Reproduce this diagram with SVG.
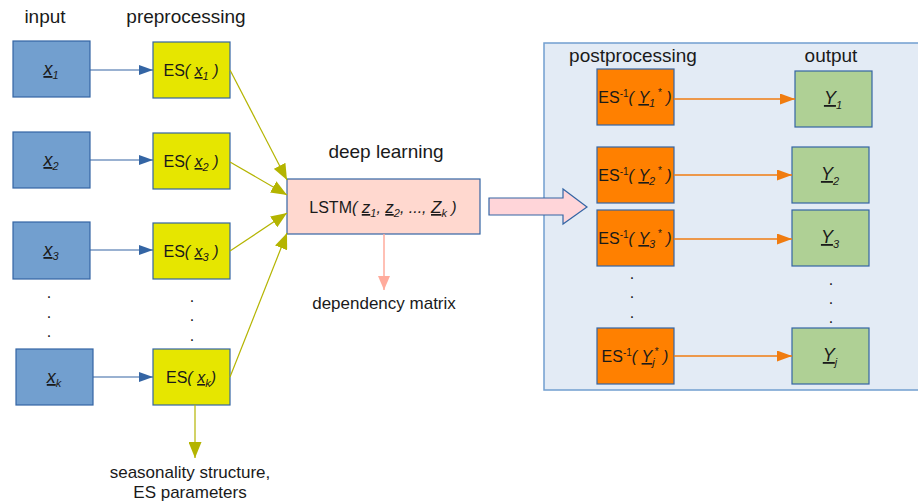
<svg xmlns="http://www.w3.org/2000/svg" width="918" height="501" viewBox="0 0 918 501">
  <defs>
    <marker id="ah-blue" markerUnits="userSpaceOnUse" markerWidth="14" markerHeight="10" refX="14" refY="5" orient="auto">
      <path d="M0,0 L14,5 L0,10 z" fill="#3465a4"/>
    </marker>
    <marker id="ah-olive" markerUnits="userSpaceOnUse" markerWidth="16" markerHeight="13" refX="16" refY="6.5" orient="auto">
      <path d="M0,0 L16,6.5 L0,13 z" fill="#b4b400"/>
    </marker>
    <marker id="ah-salmon" markerUnits="userSpaceOnUse" markerWidth="14" markerHeight="12" refX="14" refY="6" orient="auto">
      <path d="M0,0 L14,6 L0,12 z" fill="#ffab9c"/>
    </marker>
    <marker id="ah-orange" markerUnits="userSpaceOnUse" markerWidth="15" markerHeight="11" refX="15" refY="5.5" orient="auto">
      <path d="M0,0 L15,5.5 L0,11 z" fill="#f07c10"/>
    </marker>
  </defs>
  <style>
    text { font-family: "Liberation Sans", Arial, sans-serif; fill: #1a1a1a; }
    .head { font-size: 19px; }
    .note { font-size: 17px; }
    .lbl { font-size: 16px; }
    .var { font-style: italic; text-decoration: underline; }
    .sub { font-style: italic; font-size: 11px; }
    .sup { font-size: 10px; }
    .dot { font-size: 16px; }
    .in { fill: #729fcf; stroke: #3465a4; stroke-width: 1.2; }
    .es { fill: #e6e600; stroke: #3465a4; stroke-width: 1.2; }
    .lstm { fill: #ffd8cf; stroke: #3465a4; stroke-width: 1.2; }
    .post { fill: #ff8000; stroke: #3465a4; stroke-width: 1.2; }
    .out { fill: #afd095; stroke: #3465a4; stroke-width: 1.2; }
    .c-blue { stroke: #3465a4; stroke-width: 1.2; fill: none; marker-end: url(#ah-blue); }
    .c-olive { stroke: #b4b400; stroke-width: 1.2; fill: none; marker-end: url(#ah-olive); }
    .c-salmon { stroke: #ffab9c; stroke-width: 1.5; fill: none; marker-end: url(#ah-salmon); }
    .c-orange { stroke: #f07c10; stroke-width: 1.3; fill: none; marker-end: url(#ah-orange); }
  </style>

  <!-- postprocessing panel -->
  <rect id="panel" x="544" y="43" width="380" height="347" fill="#e3ebf5" stroke="#729fcf" stroke-width="1.5"/>

  <!-- column headings -->
  <text class="head" x="45" y="23" text-anchor="middle">input</text>
  <text class="head" x="186" y="23" text-anchor="middle">preprocessing</text>
  <text class="head" x="386" y="158" text-anchor="middle">deep learning</text>
  <text class="head" x="633" y="62" text-anchor="middle">postprocessing</text>
  <text class="head" x="831" y="62" text-anchor="middle">output</text>

  <!-- input series -->
  <g id="in1"><rect class="in" x="13" y="41" width="77" height="56"/>
    <text class="lbl" x="51" y="75" text-anchor="middle"><tspan class="var" font-size="18">x</tspan><tspan class="sub" dy="4">1</tspan></text></g>
  <g id="in2"><rect class="in" x="13" y="132" width="77" height="56"/>
    <text class="lbl" x="51" y="166" text-anchor="middle"><tspan class="var" font-size="18">x</tspan><tspan class="sub" dy="4">2</tspan></text></g>
  <g id="in3"><rect class="in" x="13" y="222" width="77" height="57"/>
    <text class="lbl" x="51" y="256" text-anchor="middle"><tspan class="var" font-size="18">x</tspan><tspan class="sub" dy="4">3</tspan></text></g>
  <g id="ink"><rect class="in" x="16" y="349" width="77" height="56"/>
    <text class="lbl" x="54" y="383" text-anchor="middle"><tspan class="var" font-size="18">x</tspan><tspan class="sub" dy="4">k</tspan></text></g>
  <text class="dot" x="49" y="298" text-anchor="middle">.</text>
  <text class="dot" x="49" y="318" text-anchor="middle">.</text>
  <text class="dot" x="49" y="337" text-anchor="middle">.</text>

  <!-- exponential smoothing -->
  <g id="es1"><rect class="es" x="153" y="42" width="77" height="56"/>
    <text class="lbl" x="191" y="76" text-anchor="middle">ES<tspan font-style="italic">(</tspan> <tspan class="var">x</tspan><tspan class="sub" dy="4">1</tspan><tspan dy="-4"> </tspan><tspan font-style="italic">)</tspan></text></g>
  <g id="es2"><rect class="es" x="153" y="133" width="77" height="56"/>
    <text class="lbl" x="191" y="167" text-anchor="middle">ES<tspan font-style="italic">(</tspan> <tspan class="var">x</tspan><tspan class="sub" dy="4">2</tspan><tspan dy="-4"> </tspan><tspan font-style="italic">)</tspan></text></g>
  <g id="es3"><rect class="es" x="153" y="223" width="77" height="56"/>
    <text class="lbl" x="191" y="257" text-anchor="middle">ES<tspan font-style="italic">(</tspan> <tspan class="var">x</tspan><tspan class="sub" dy="4">3</tspan><tspan dy="-4"> </tspan><tspan font-style="italic">)</tspan></text></g>
  <g id="esk"><rect class="es" x="153" y="349" width="77" height="56"/>
    <text class="lbl" x="191" y="383" text-anchor="middle">ES<tspan font-style="italic">(</tspan> <tspan class="var">x</tspan><tspan class="sub" dy="4">k</tspan><tspan dy="-4" font-style="italic">)</tspan></text></g>
  <text class="dot" x="192" y="302" text-anchor="middle">.</text>
  <text class="dot" x="192" y="321" text-anchor="middle">.</text>
  <text class="dot" x="192" y="341" text-anchor="middle">.</text>

  <!-- LSTM -->
  <g id="lstm"><rect class="lstm" x="287" y="179" width="193" height="55"/>
    <text class="lbl" x="383" y="213" text-anchor="middle">LSTM<tspan font-style="italic">(</tspan> <tspan class="var" font-size="17">z</tspan><tspan class="sub" dy="4">1</tspan><tspan dy="-4" font-style="italic">, </tspan><tspan class="var" font-size="17">z</tspan><tspan class="sub" dy="4">2</tspan><tspan dy="-4" font-style="italic">, ..., </tspan><tspan class="var" font-size="17">Z</tspan><tspan class="sub" dy="4">k</tspan><tspan dy="-4" font-style="italic"> )</tspan></text></g>

  <text class="note" x="384" y="309" text-anchor="middle">dependency matrix</text>
  <text class="note" x="190" y="478" text-anchor="middle">seasonality structure,</text>
  <text class="note" x="190" y="498" text-anchor="middle">ES parameters</text>

  <!-- transfer arrow -->
  <path id="transfer" d="M489,198 L563,198 L563,189 L587,207 L563,224 L563,215 L489,215 z" fill="#ffd5d9" stroke="#3465a4" stroke-width="1.2"/>

  <!-- inverse smoothing -->
  <g id="post1"><rect class="post" x="597" y="69" width="77" height="56"/>
    <text class="lbl" x="635" y="103" text-anchor="middle">ES<tspan class="sup" dy="-6">-1</tspan><tspan dy="6" font-style="italic">(</tspan> <tspan class="var">Y</tspan><tspan class="sub" dy="4">1</tspan><tspan class="sup" dy="-11"> *</tspan><tspan dy="7" font-style="italic"> )</tspan></text></g>
  <g id="post2"><rect class="post" x="597" y="147" width="77" height="56"/>
    <text class="lbl" x="635" y="181" text-anchor="middle">ES<tspan class="sup" dy="-6">-1</tspan><tspan dy="6" font-style="italic">(</tspan> <tspan class="var">Y</tspan><tspan class="sub" dy="4">2</tspan><tspan class="sup" dy="-11"> *</tspan><tspan dy="7" font-style="italic"> )</tspan></text></g>
  <g id="post3"><rect class="post" x="597" y="210" width="77" height="56"/>
    <text class="lbl" x="635" y="244" text-anchor="middle">ES<tspan class="sup" dy="-6">-1</tspan><tspan dy="6" font-style="italic">(</tspan> <tspan class="var">Y</tspan><tspan class="sub" dy="4">3</tspan><tspan class="sup" dy="-11"> *</tspan><tspan dy="7" font-style="italic"> )</tspan></text></g>
  <g id="postj"><rect class="post" x="597" y="328" width="77" height="56"/>
    <text class="lbl" x="635" y="362" text-anchor="middle">ES<tspan class="sup" dy="-6">-1</tspan><tspan dy="6" font-style="italic">(</tspan> <tspan class="var">Y</tspan><tspan class="sub" dy="4">j</tspan><tspan class="sup" dy="-11">*</tspan><tspan dy="7" font-style="italic"> )</tspan></text></g>
  <text class="dot" x="632" y="279" text-anchor="middle">.</text>
  <text class="dot" x="632" y="298" text-anchor="middle">.</text>
  <text class="dot" x="632" y="318" text-anchor="middle">.</text>

  <!-- outputs -->
  <g id="out1"><rect class="out" x="795" y="71" width="77" height="56"/>
    <text class="lbl" x="833" y="104" text-anchor="middle"><tspan class="var" font-size="18">Y</tspan><tspan class="sub" dy="5">1</tspan></text></g>
  <g id="out2"><rect class="out" x="792" y="147" width="77" height="56"/>
    <text class="lbl" x="830" y="180" text-anchor="middle"><tspan class="var" font-size="18">Y</tspan><tspan class="sub" dy="5">2</tspan></text></g>
  <g id="out3"><rect class="out" x="792" y="210" width="77" height="56"/>
    <text class="lbl" x="830" y="243" text-anchor="middle"><tspan class="var" font-size="18">Y</tspan><tspan class="sub" dy="5">3</tspan></text></g>
  <g id="outj"><rect class="out" x="792" y="328" width="77" height="56"/>
    <text class="lbl" x="830" y="361" text-anchor="middle"><tspan class="var" font-size="18">Y</tspan><tspan class="sub" dy="5">j</tspan></text></g>
  <text class="dot" x="831" y="285" text-anchor="middle">.</text>
  <text class="dot" x="831" y="304" text-anchor="middle">.</text>
  <text class="dot" x="831" y="323" text-anchor="middle">.</text>

  <!-- connectors -->
  <g id="connectors">
    <line class="c-blue" x1="90" y1="70" x2="153" y2="70"/>
    <line class="c-blue" x1="90" y1="160" x2="153" y2="160"/>
    <line class="c-blue" x1="90" y1="250" x2="153" y2="250"/>
    <line class="c-blue" x1="93" y1="377" x2="153" y2="377"/>
    <line class="c-olive" x1="230" y1="70" x2="287" y2="180"/>
    <line class="c-olive" x1="230" y1="162" x2="287" y2="195"/>
    <line class="c-olive" x1="230" y1="251" x2="287" y2="213"/>
    <line class="c-olive" x1="230" y1="377" x2="287" y2="233"/>
    <line class="c-olive" x1="195" y1="405" x2="195" y2="458"/>
    <line class="c-salmon" x1="384" y1="234" x2="384" y2="290"/>
    <line class="c-orange" x1="674" y1="99" x2="795" y2="99"/>
    <line class="c-orange" x1="674" y1="175" x2="792" y2="175"/>
    <line class="c-orange" x1="674" y1="239" x2="792" y2="239"/>
    <line class="c-orange" x1="674" y1="356" x2="792" y2="356"/>
  </g>
</svg>
